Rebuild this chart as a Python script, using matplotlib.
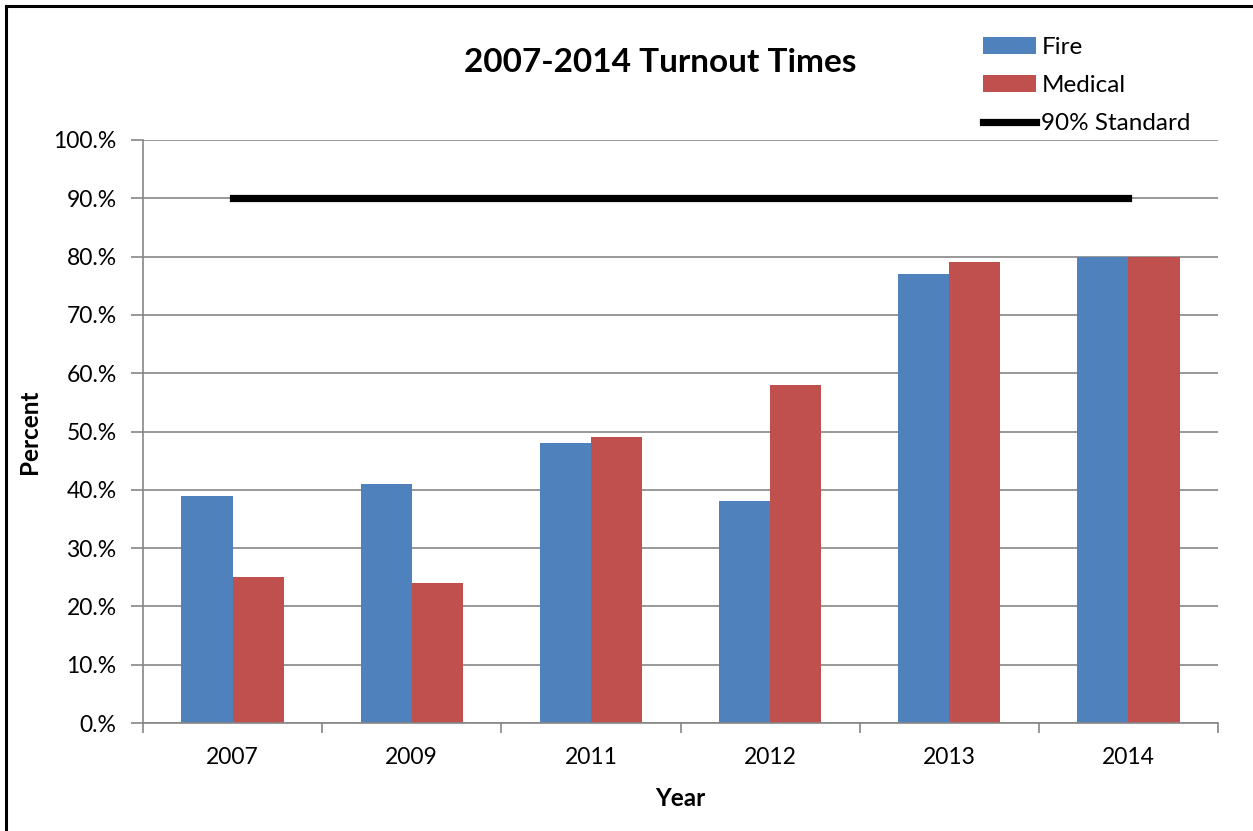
import numpy as np
import matplotlib.pyplot as plt
from matplotlib.patches import Rectangle

plt.rcParams['font.family'] = ['Lato', 'DejaVu Sans']

# data
years = ['2007', '2009', '2011', '2012', '2013', '2014']
fire = [0.39, 0.41, 0.48, 0.38, 0.77, 0.80]
medical = [0.25, 0.24, 0.49, 0.58, 0.79, 0.80]
standard = [0.90, 0.90, 0.90, 0.90, 0.90, 0.90]
y_ticks = [0.0, 0.1, 0.2, 0.3, 0.4, 0.5, 0.6, 0.7, 0.8, 0.9, 1.0]
y_labels = ['0.%', '10.%', '20.%', '30.%', '40.%', '50.%', '60.%', '70.%', '80.%', '90.%', '100.%']

W, H = 1253, 831
fig = plt.figure(figsize=(W / 100, H / 100), dpi=100)
ax = fig.add_axes([143 / W, 1 - 723 / H, 1075 / W, 583 / H])

x = np.arange(len(years))
bw = 1 / 3.5
grid_c = '#868686'

h_fire = ax.bar(x - bw / 2, fire, bw, color='#4F81BD', label='Fire', zorder=2)
h_med = ax.bar(x + bw / 2, medical, bw, color='#C0504D', label='Medical', zorder=2)
h_std, = ax.plot(x, standard, color='black', linewidth=5.2, solid_capstyle='projecting',
                 label='90% Standard', zorder=3)

ax.set_xlim(-0.5, len(years) - 0.5)
ax.set_ylim(0, 1)
ax.set_yticks(y_ticks)
ax.set_yticklabels(y_labels, fontsize=16.5)
ax.yaxis.grid(True, color=grid_c, linewidth=1.2, zorder=0)

# x ticks at group boundaries, labels at centers
ax.set_xticks(np.arange(-0.5, len(years)), minor=False)
ax.set_xticklabels([])
ax.set_xticks(x, minor=True)
ax.set_xticklabels(years, minor=True, fontsize=16.5)
ax.tick_params(axis='x', which='major', length=7, color=grid_c, width=1.2, direction='out')
ax.tick_params(axis='x', which='minor', length=0, pad=17)
ax.tick_params(axis='y', length=9, color=grid_c, width=1.2, pad=10)

for s in ['top', 'right']:
    ax.spines[s].set_visible(False)
for s in ['left', 'bottom']:
    ax.spines[s].set_color(grid_c)
    ax.spines[s].set_linewidth(1.2)

ax.set_xlabel('Year', fontsize=17.5, fontweight='bold', labelpad=14)
ax.set_ylabel('Percent', fontsize=17.5, fontweight='bold')
ax.yaxis.set_label_coords((41 - 143) / 1075, 0.5)

fig.text(660 / W, 1 - 62 / H, '2007-2014 Turnout Times', fontsize=24, fontweight='bold',
         ha='center', va='center')

fig.legend(handles=[h_fire, h_med, h_std], loc='upper left',
           bbox_to_anchor=(983 / W, 1 - 37 / H), frameon=False,
           fontsize=17.5, handlelength=2.2, handleheight=0.65, handletextpad=0.2,
           labelspacing=0.7, borderaxespad=0, borderpad=0)

# outer border (only left/top visible in the reference)
fig.patches.append(Rectangle((6 / W, -0.1), 1.5, 1 - 6 / H + 0.1, transform=fig.transFigure,
                             fill=False, edgecolor='black', linewidth=2.2))

fig.savefig('out.png', dpi=100)
